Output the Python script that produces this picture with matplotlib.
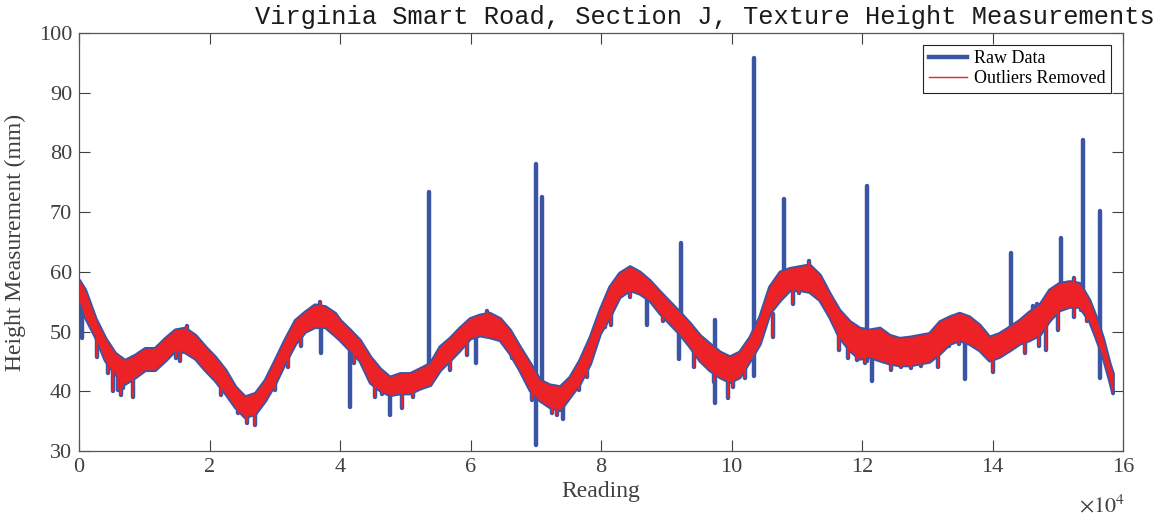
import numpy as np
import matplotlib
matplotlib.use("Agg")
import matplotlib.pyplot as plt
from matplotlib.lines import Line2D

# band envelope (reading, top, bottom)
env_x = [0, 900, 2500, 4000, 5500, 7000, 8600, 10100, 11600, 13200, 14700, 16200,
         17800, 19300, 20800, 22400, 23900, 25400, 27000, 28500, 30000, 31500, 33100,
         34600, 36100, 37700, 39200, 40000, 41500, 43000, 44600, 46100, 47600, 49200,
         50700, 52200, 53800, 55300, 56800, 58300, 59900, 61400, 62900, 64500, 66000,
         67500, 69100, 70600, 72100, 73700, 75200, 76700, 78300, 79800, 81300, 82800,
         84400, 85900, 87400, 89000, 90500, 92000, 93600, 95100, 96600, 98200, 99700,
         101200, 102800, 104300, 105800, 107400, 108900, 110400, 111900, 113500,
         115000, 116500, 118100, 119600, 121100, 122700, 124200, 125700, 127300,
         128800, 130300, 131900, 133400, 134900, 136400, 138000, 139500, 141000,
         142600, 144100, 145600, 147200, 148700, 150200, 151800, 153300, 154800,
         155800, 156900, 157900, 158400]
env_hi = [58.6, 57.0, 52.2, 48.9, 46.4, 45.2, 46.1, 47.2, 47.2, 48.9, 50.3, 50.6,
          49.4, 47.5, 45.8, 43.6, 40.8, 39.1, 39.7, 41.9, 45.2, 48.6, 51.9,
          53.3, 54.5, 54.2, 53.1, 51.9, 50.3, 48.6, 45.8, 43.8, 42.4, 43.0,
          43.0, 43.8, 44.7, 47.5, 48.9, 50.6, 52.2, 52.8, 53.1, 52.2, 50.3,
          47.5, 44.7, 41.9, 41.1, 40.8, 42.4, 45.2, 49.1, 53.6, 57.5, 59.8,
          60.9, 60.0, 58.6, 56.7, 55.0, 53.3, 51.4, 49.4, 48.0, 46.6, 45.8,
          46.6, 49.1, 52.5, 57.5, 60.0, 60.6, 60.9, 61.2, 59.5,
          56.4, 53.6, 51.7, 50.6, 50.3, 50.6, 49.4, 48.9, 49.1,
          49.4, 49.7, 51.7, 52.5, 53.1, 52.5, 51.1, 49.1, 49.7,
          50.8, 51.9, 53.3, 54.5, 57.0, 58.1, 58.4, 58.1, 55.3,
          52.5, 48.9, 44.7, 43.0]
env_lo = [55.3, 52.5, 49.1, 45.2, 43.0, 41.3, 42.4, 43.6, 43.6, 45.2, 46.9, 46.6,
          45.5, 43.6, 41.9, 39.7, 37.4, 35.7, 36.3, 38.5, 41.3, 44.7, 48.0,
          50.0, 50.8, 50.8, 49.4, 48.6, 46.9, 45.2, 41.5, 40.2, 39.4, 39.7,
          39.7, 40.5, 41.1, 43.6, 45.2, 46.9, 48.9, 49.4, 49.1, 48.6, 46.4,
          43.6, 40.2, 38.5, 37.4, 36.9, 39.1, 41.3, 44.7, 49.7, 52.5, 55.8,
          57.0, 56.4, 55.3, 53.1, 51.4, 49.7, 47.5, 45.2, 43.6, 42.4, 41.6,
          42.4, 45.2, 48.0, 53.1, 55.3, 57.0, 57.0, 56.7, 55.3,
          52.5, 49.1, 46.9, 45.5, 45.8, 45.2, 44.7, 44.4, 44.4,
          44.7, 45.0, 46.4, 48.0, 48.6, 48.0, 46.9, 45.2, 45.8,
          46.9, 48.0, 48.6, 49.5, 51.9, 53.6, 54.2, 54.2, 51.9,
          49.1, 45.8, 41.9, 39.7]

# noise spikes that survive outlier removal (reading, bottom, top)
dip_x = [2800, 4500, 5200, 6000, 6400, 6700, 8300, 14900, 15500, 21800, 24300,
         25700, 27000, 30000, 32000, 34000, 42200, 45300, 46500, 49500, 51200,
         56800, 59400, 66400, 69400, 72500, 73200, 76700, 77800, 80600, 81500,
         84400, 89500, 94300, 97300, 99400, 100300, 102000, 106300, 109500,
         110400, 116500, 117800, 119300, 120400, 124500, 126000, 127500, 129100,
         131700, 133400, 134900, 140000, 145000, 147200, 148200, 150000, 152500,
         153500, 154500, 37000, 16500, 62500, 111900, 152500]
dip_lo = [45.8, 43.0, 40.0, 40.2, 39.4, 40.5, 39.1, 45.5, 45.0, 39.4, 36.3,
          34.7, 34.4, 40.2, 44.1, 47.5, 44.7, 39.1, 39.5, 37.2, 39.1,
          43.6, 46.1, 45.6, 38.5, 36.3, 36.0, 40.2, 42.4, 50.8, 51.1,
          55.8, 51.7, 44.1, 41.6, 38.9, 40.8, 42.2, 49.1, 54.7,
          56.4, 46.9, 45.6, 45.2, 44.7, 43.6, 44.1, 43.9, 44.3,
          44.1, 47.5, 48.0, 43.3, 46.4, 47.5, 46.9, 50.3, 52.5,
          53.6, 51.7, 52.5, 48.5, 51.0, 59.0, 56.0]
dip_hi = [49.0, 46.0, 44.0, 43.0, 43.0, 43.0, 44.0, 48.0, 48.0, 43.0, 39.0,
          37.5, 38.0, 43.0, 47.0, 51.0, 48.0, 43.0, 42.0, 41.0, 41.5,
          46.0, 49.0, 48.0, 42.0, 39.0, 39.0, 43.0, 46.0, 54.0, 55.0,
          59.0, 55.0, 48.0, 45.0, 43.0, 43.0, 45.0, 53.0, 58.0,
          59.0, 50.0, 49.0, 48.0, 47.5, 47.0, 47.0, 47.0, 47.0,
          47.0, 50.0, 51.0, 47.0, 49.0, 52.0, 51.0, 55.0, 56.0,
          56.0, 55.0, 55.0, 50.9, 53.5, 61.8, 59.0]

# raw outliers (reading, bottom, top)
out_x = [500, 37100, 41500, 47700, 53600, 60900, 70100, 71000, 74100, 87100,
         91900, 92300, 97500, 103500, 108000, 120800, 121600, 135800, 142800,
         146200, 146800, 150500, 153900, 156400]
out_lo = [48.9, 46.4, 37.4, 36.0, 43.0, 44.7, 31.0, 39.0, 35.3, 51.1,
          45.4, 50.0, 38.0, 42.6, 57.0, 45.0, 41.8, 42.0, 48.0,
          50.0, 50.0, 55.0, 55.0, 42.3]
out_hi = [56.0, 52.0, 48.0, 41.0, 73.3, 50.0, 78.1, 72.5, 39.0, 57.0,
          52.0, 64.9, 51.9, 95.8, 72.2, 74.4, 46.0, 50.0, 63.1,
          54.3, 54.7, 65.7, 82.1, 70.2]

blue = "#3B55A5"
red = "#EC2227"
txt = "#404040"

plt.rcParams["font.family"] = ["Liberation Serif", "DejaVu Serif"]
plt.rcParams["mathtext.fontset"] = "stix"

fig = plt.figure(figsize=(11.59, 5.16), dpi=100)
ax = fig.add_axes([79 / 1159, 65 / 516, 1044 / 1159, 418 / 516])

# raw data (thick blue)
ax.fill_between(env_x, env_lo, env_hi, color=blue, lw=2.6, edgecolor=blue, zorder=2)
ax.vlines(out_x, out_lo, out_hi, color=blue, lw=3.2, capstyle="round", zorder=2)
ax.vlines(dip_x, dip_lo, dip_hi, color=blue, lw=3.2, capstyle="round", zorder=2)

# outliers removed (thin red)
ax.fill_between(env_x, env_lo, env_hi, color=red, lw=0, zorder=3)
ax.vlines(dip_x, dip_lo, dip_hi, color=red, lw=1.4, zorder=3)

ax.set_xlim(0, 160000)
ax.set_ylim(30, 100)
ax.set_xticks(np.arange(0, 160001, 20000))
ax.set_xticklabels([str(v) for v in range(0, 17, 2)])
ax.set_yticks(np.arange(30, 101, 10))

ax.tick_params(direction="in", length=8, width=0.8, top=True, right=True,
               labelsize=16, colors=txt, pad=5)
for s in ax.spines.values():
    s.set_color("#555555")
    s.set_linewidth(0.9)

ax.set_xlabel("Reading", fontsize=17, color=txt, labelpad=3)
ax.set_ylabel("Height Measurement (mm)", fontsize=17, color=txt, labelpad=9)

fig.text(1125 / 1159, 1 - 506 / 516, r"$\times10^{4}$", ha="right", va="center",
         fontsize=16, color=txt)

fig.text(705 / 1159, 1 - 17 / 516,
         "Virginia Smart Road, Section J, Texture Height Measurements",
         ha="center", va="center", fontsize=18.3, family="Liberation Mono", color="#1a1a1a")

handles = [Line2D([], [], color=blue, lw=3.2), Line2D([], [], color=red, lw=1.0)]
leg = ax.legend(handles, ["Raw Data", "Outliers Removed"], loc="upper right",
                bbox_to_anchor=(1111 / 1159, 1 - 45 / 516), bbox_transform=fig.transFigure,
                borderaxespad=0, fontsize=13, fancybox=False, framealpha=1,
                edgecolor="#222222", handlelength=2.1, handletextpad=0.4,
                labelspacing=0.15, borderpad=0.3)
leg.get_frame().set_linewidth(0.8)

fig.savefig("out.png", dpi=100)
